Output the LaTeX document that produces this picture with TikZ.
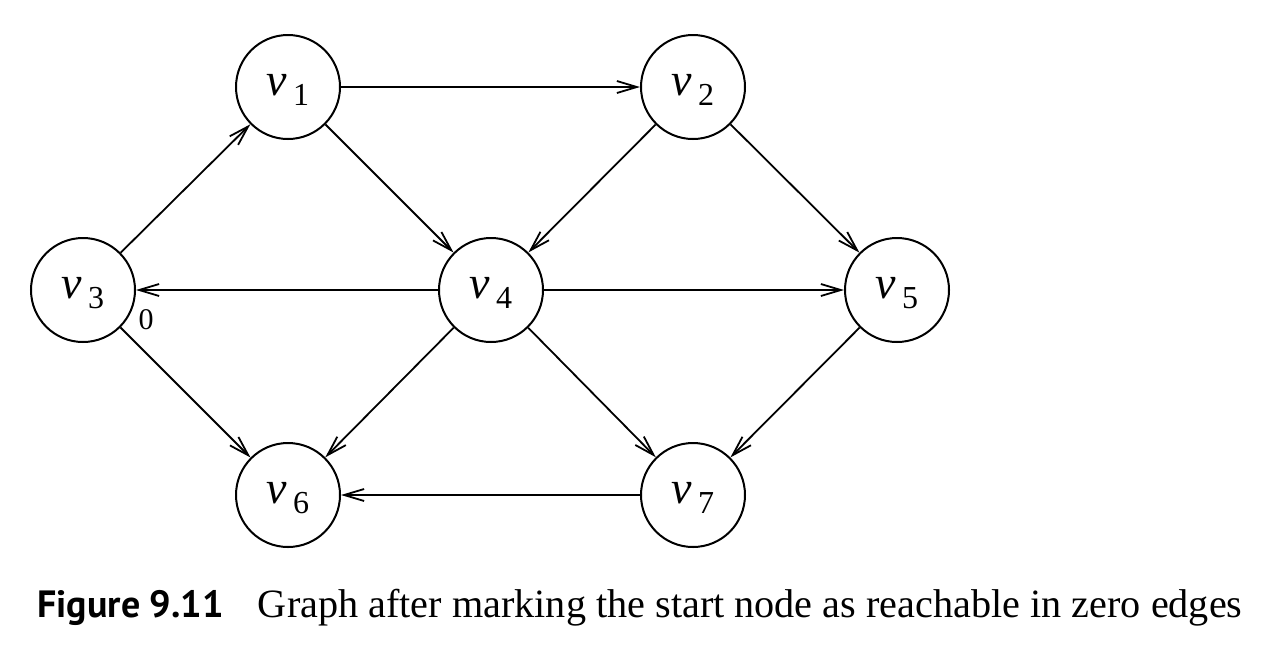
\documentclass[tikz,border=0pt]{standalone}
\usepackage{fontspec}
\setmainfont{Liberation Serif}
\newfontfamily\capsans{PT Sans}
\usetikzlibrary{arrows.meta}
\newcommand{\vlab}[1]{\raisebox{-4pt}[10pt][10pt]{{\fontsize{23}{23}\selectfont\itshape v}\hspace{3pt}\raisebox{-5pt}{\fontsize{16}{16}\selectfont #1}}}
\tikzset{
  vert/.style={draw, circle, line width=1pt, minimum size=52pt, inner sep=0pt},
  edge/.style={line width=0.9pt, -{Straight Barb[length=10pt,width=6pt,line width=0.9pt]}},
}
\begin{document}
\begin{tikzpicture}[x=0.5pt,y=-0.5pt]
\useasboundingbox (0,0) rectangle (1263,670);
\node[vert] (v1) at (288,87) {\vlab{1}};
\node[vert] (v2) at (693,87) {\vlab{2}};
\node[vert] (v3) at (83,290) {\vlab{3}};
\node[vert] (v4) at (491,290) {\vlab{4}};
\node[vert] (v5) at (897,290) {\vlab{5}};
\node[vert] (v6) at (288,495) {\vlab{6}};
\node[vert] (v7) at (693,495) {\vlab{7}};
\node (zero) at (146,320) {\fontsize{15}{15}\selectfont 0};
\draw[edge] (v1) -- (v2);
\draw[edge] (v1) -- (v4);
\draw[edge] (v2) -- (v4);
\draw[edge] (v2) -- (v5);
\draw[edge] (v3) -- (v1);
\draw[edge] (v3) -- (v6);
\draw[edge] (v4) -- (v3);
\draw[edge] (v4) -- (v5);
\draw[edge] (v4) -- (v6);
\draw[edge] (v4) -- (v7);
\draw[edge] (v5) -- (v7);
\draw[edge] (v7) -- (v6);
\node[anchor=base west, inner sep=0pt] (cap) at (37,617) {{\capsans\bfseries\fontsize{19}{19}\selectfont Figure 9.11}\hspace{17pt}{\fontsize{20.1}{20.1}\selectfont Graph after marking the start node as reachable in zero edges}};
\end{tikzpicture}
\end{document}
